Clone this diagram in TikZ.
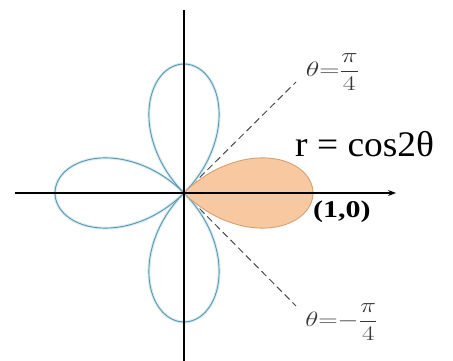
\documentclass[tikz,border=0pt]{standalone}
\usepackage{amsmath}
\usepackage{fontspec}
\usepackage{graphicx}
\newfontfamily\tnr{Liberation Serif}
\usetikzlibrary{arrows.meta}
\definecolor{petal}{RGB}{95,150,170}
\definecolor{halo}{RGB}{212,236,246}
\definecolor{leaf}{RGB}{248,200,160}
\definecolor{leafline}{RGB}{215,160,110}
\definecolor{dashc}{RGB}{75,75,75}
\definecolor{lblc}{RGB}{55,55,55}
\begin{document}
\begin{tikzpicture}[x=1pt,y=1pt,
  halo line/.style={draw=halo, line width=3pt},
  petal line/.style={draw=petal, line width=0.9pt},
  axis line/.style={draw=black, line width=1.1pt},
  guide/.style={draw=dashc, line width=1pt, dash pattern=on 7pt off 4pt},
  mathlbl/.style={text=lblc, inner sep=0pt, font=\fontsize{22}{26}\selectfont},
  bigtxt/.style={inner sep=0pt, anchor=base west, font=\tnr\fontsize{36}{40}\selectfont},
  pttxt/.style={inner sep=0pt, anchor=base west, font=\tnr\bfseries\fontsize{24}{28}\selectfont}
]
\useasboundingbox (0,0) rectangle (453,361);
\coordinate (O) at (184,168);
\coordinate (xl) at (15,168);
\coordinate (xr) at (396,168);
\coordinate (yt) at (184,351);
\coordinate (yb) at (184,0);
\coordinate (d1) at (296,279);
\coordinate (d2) at (296,55);
% orange petal
\begin{scope}[shift={(O)}]
\fill[leaf] plot[domain=-45:45,samples=120,smooth] ({129*cos(2*\x)*cos(\x)},{129*cos(2*\x)*sin(\x)}) -- cycle;
\end{scope}
% dashed guides
\draw[guide] (O) -- (d1);
\draw[guide] (O) -- (d2);
% blue petals
\begin{scope}[shift={(O)}]
\foreach \a in {45,135,225}{
  \draw[halo line] plot[domain=\a:\a+90,samples=120,smooth] ({129*cos(2*\x)*cos(\x)},{129*cos(2*\x)*sin(\x)});
}
\foreach \a in {45,135,225}{
  \draw[petal line] plot[domain=\a:\a+90,samples=120,smooth] ({129*cos(2*\x)*cos(\x)},{129*cos(2*\x)*sin(\x)});
}
\draw[draw=leafline, line width=0.9pt] plot[domain=-45:45,samples=120,smooth] ({129*cos(2*\x)*cos(\x)},{129*cos(2*\x)*sin(\x)});
\end{scope}
% axes
\draw[axis line, -{Stealth[length=8pt,width=6pt]}] (xl) -- (xr);
\draw[axis line] (yb) -- (yt);
% labels
\node[mathlbl] (l1) at (332.5,289) {\scalebox{1.35}[1]{$\theta{=}\dfrac{\pi}{4}$}};
\node[mathlbl] (l2) at (341.5,39) {\scalebox{1.3}[1]{$\theta{=}{-}\dfrac{\pi}{4}$}};
\node[bigtxt] (eq) at (295,204) {\scalebox{1.04}[1]{r = cos2θ}};
\node[pttxt] (pt) at (313,143) {\scalebox{1.25}[1]{(1,0)}};
\end{tikzpicture}
\end{document}
